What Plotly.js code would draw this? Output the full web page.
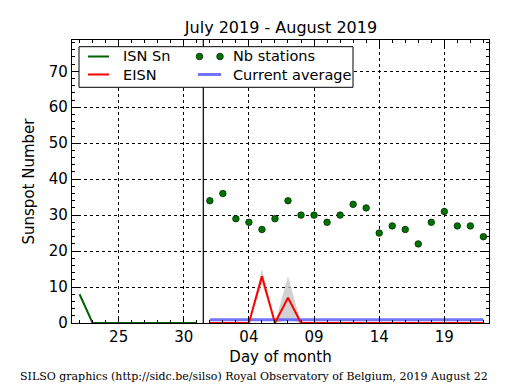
<!DOCTYPE html>
<html><head><meta charset="utf-8">
<script src="https://cdn.plot.ly/plotly-3.0.1.min.js"></script>
<style>html,body{margin:0;padding:0;background:#fff}#chart{width:515px;height:390px}</style>
</head><body><div id="chart"></div>
<script>
// Day index counted from July 1 (= 1); August 1 = 32
const isnDays = [22,23,24,25,26,27,28,29,30,31];
const isnValues = [8,0,0,0,0,0,0,0,0,0];
const augDays = [32,33,34,35,36,37,38,39,40,41,42,43,44,45,46,47,48,49,50,51,52,53];
const eisnValues = [0,0,0,0,13,0,7,0,0,0,0,0,0,0,0,0,0,0,0,0,0,0];
const eisnUpper  = [0,0,0,0,15,0,13,0,0,0,0,0,0,0,0,0,0,0,0,0,0,0];
const eisnLower  = [0,0,0,0,11,0,1,0,0,0,0,0,0,0,0,0,0,0,0,0,0,0];
const nbStations = [34,36,29,28,26,29,34,30,30,28,30,33,32,25,27,26,22,28,31,27,27,24];
const avgDays = [32,53];
const avgValues = [0.9,0.9];
const monthBoundary = 31.5;
const tickVals = [25,30,35,40,45,50];
const tickText = ['25','30','04','09','14','19'];
const yTickVals = [0,10,20,30,40,50,60,70];

const FONT = 'DejaVu Sans, sans-serif';
const L = 72, R = 489, T = 40, B = 323;
const px = v => (v - L) / (R - L);
const py = v => (B - v) / (B - T);
const ROW1 = 56.5, ROW2 = 74.5;

const traces = [
  {x: isnDays, y: isnValues, type: 'scatter', mode: 'lines', line: {color: '#006400', width: 2}, showlegend: false, hoverinfo: 'skip'},
  {x: augDays, y: eisnUpper, type: 'scatter', mode: 'lines', line: {width: 0, color: 'rgba(0,0,0,0)'}, showlegend: false, hoverinfo: 'skip'},
  {x: augDays, y: eisnLower, type: 'scatter', mode: 'lines', line: {width: 0, color: 'rgba(0,0,0,0)'}, fill: 'tonexty', fillcolor: 'rgba(195,195,195,0.75)', showlegend: false, hoverinfo: 'skip'},
  {x: avgDays, y: avgValues, type: 'scatter', mode: 'lines', line: {color: 'rgba(90,90,255,0.85)', width: 3}, showlegend: false},
  {x: augDays, y: eisnValues, type: 'scatter', mode: 'lines', line: {color: '#ff0000', width: 2}, showlegend: false},
  {x: augDays, y: nbStations, type: 'scatter', mode: 'markers', marker: {color: '#007400', size: 6.5, line: {color: '#002a00', width: 0.8}}, showlegend: false}
];

const shapes = [
  {type: 'line', xref: 'x', yref: 'paper', x0: monthBoundary, x1: monthBoundary, y0: 0, y1: 1, line: {color: '#000', width: 1.2}},
  {type: 'rect', xref: 'paper', yref: 'paper', x0: px(79), x1: px(353), y0: py(87.3), y1: py(46.7), line: {color: '#000', width: 1}, fillcolor: '#fff'},
  {type: 'line', xref: 'paper', yref: 'paper', x0: px(88), x1: px(109), y0: py(ROW1), y1: py(ROW1), line: {color: '#006400', width: 2}},
  {type: 'line', xref: 'paper', yref: 'paper', x0: px(88), x1: px(109), y0: py(ROW2), y1: py(ROW2), line: {color: '#ff0000', width: 2}},
  {type: 'line', xref: 'paper', yref: 'paper', x0: px(198), x1: px(221), y0: py(ROW2), y1: py(ROW2), line: {color: 'rgba(90,90,255,0.85)', width: 3}}
];
[199.5, 220].forEach(cx => {
  shapes.push({type: 'circle', xref: 'paper', yref: 'paper', xsizemode: 'pixel', ysizemode: 'pixel',
    xanchor: px(cx), yanchor: py(ROW1), x0: -3.3, x1: 3.3, y0: -3.3, y1: 3.3,
    fillcolor: '#007400', line: {color: '#002a00', width: 0.8}});
});

const legendText = [
  ['ISN Sn', 122, ROW1], ['EISN', 122, ROW2], ['Nb stations', 232, ROW1], ['Current average', 232, ROW2]
];
const annotations = legendText.map(([t, x, y]) => ({
  text: t, xref: 'paper', yref: 'paper', x: px(x), y: py(y), xanchor: 'left', yanchor: 'middle',
  showarrow: false, borderpad: 0, font: {family: FONT, size: 14.5, color: '#000'}
}));
annotations.push({
  text: 'SILSO graphics (http://sidc.be/silso) Royal Observatory of Belgium, 2019 August 22',
  xref: 'paper', yref: 'paper', x: px(254), y: py(376), xanchor: 'center', yanchor: 'middle',
  showarrow: false, font: {family: 'DejaVu Serif, serif', size: 11, color: '#000'}
});

const layout = {
  width: 515, height: 390,
  margin: {l: L, r: 515 - R, t: T, b: 390 - B, pad: 0},
  paper_bgcolor: '#fff', plot_bgcolor: '#fff',
  font: {family: FONT, color: '#000'},
  title: {text: 'July 2019 - August 2019', font: {family: FONT, size: 16, color: '#000'},
          x: px(281), xref: 'paper', xanchor: 'center', y: 1 - 27 / 390, yref: 'container', yanchor: 'middle'},
  xaxis: {
    range: [21.42, 53.43], tickmode: 'array', tickvals: tickVals, ticktext: tickText,
    ticks: 'inside', ticklen: 6, tickwidth: 1, tickcolor: '#000',
    showline: true, linecolor: '#000', linewidth: 1.2, mirror: 'ticks',
    showgrid: true, gridcolor: '#000', gridwidth: 1, griddash: 'dot',
    zeroline: false, tickfont: {family: FONT, size: 15, color: '#000'},
    minor: {tickmode: 'linear', tick0: 0, dtick: 1, ticks: 'inside', ticklen: 3, tickcolor: '#000', showgrid: false},
    title: {text: 'Day of month', font: {family: FONT, size: 15, color: '#000'}, standoff: 6}
  },
  yaxis: {
    range: [0, 78.7], tickmode: 'array', tickvals: yTickVals,
    ticks: 'inside', ticklen: 6, tickwidth: 1, tickcolor: '#000',
    showline: true, linecolor: '#000', linewidth: 1.2, mirror: 'ticks',
    showgrid: true, gridcolor: '#000', gridwidth: 1, griddash: 'dot',
    zeroline: false, tickfont: {family: FONT, size: 15, color: '#000'},
    minor: {tickmode: 'linear', tick0: 0, dtick: 2, ticks: 'inside', ticklen: 3, tickcolor: '#000', showgrid: false},
    title: {text: 'Sunspot Number', font: {family: FONT, size: 15, color: '#000'}, standoff: 10}
  },
  shapes: shapes,
  annotations: annotations,
  showlegend: false
};

Plotly.newPlot('chart', traces, layout, {displayModeBar: false, staticPlot: true});
</script>
</body></html>
